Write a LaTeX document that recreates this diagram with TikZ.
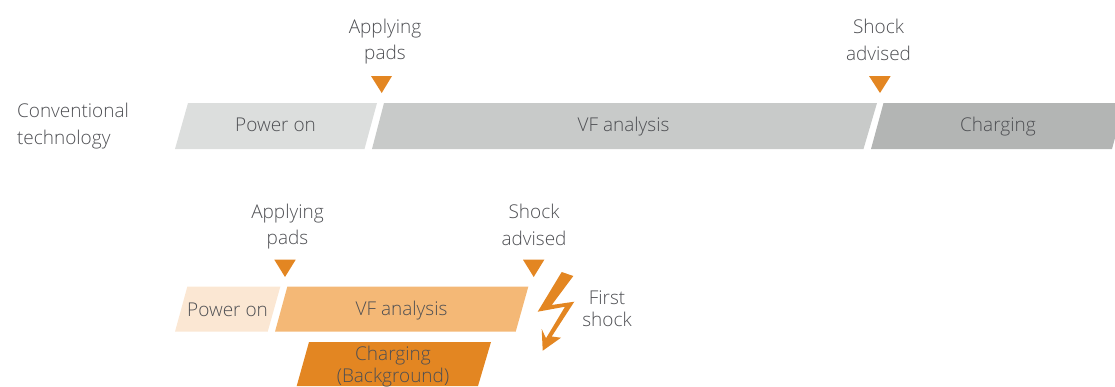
\documentclass[tikz,border=0pt]{standalone}
\usepackage{fontspec}
\setmainfont{Open Sans}[UprightFont=* Light]
\usetikzlibrary{positioning}

\definecolor{inkgrey}{HTML}{4E4F53}
\definecolor{markorange}{HTML}{E38622}
\definecolor{greyone}{HTML}{DCDEDD}
\definecolor{greytwo}{HTML}{C8CAC9}
\definecolor{greythree}{HTML}{B3B5B4}
\definecolor{peachone}{HTML}{FBE7D3}
\definecolor{peachtwo}{HTML}{F4B876}

\begin{document}
\begin{tikzpicture}[
  x=1pt, y=-1pt,
  every node/.style={font=\fontsize{19}{26.5}\selectfont, text=inkgrey, align=center, inner sep=0pt},
  tight/.style={font=\fontsize{19}{22}\selectfont},
  marker/.style={fill=markorange},
  convpower/.style={fill=greyone},
  convvf/.style={fill=greytwo},
  convcharge/.style={fill=greythree},
  fastpower/.style={fill=peachone},
  fastvf/.style={fill=peachtwo},
  fastcharge/.style={fill=markorange}
]
\useasboundingbox (0,0) rectangle (1115,386);

% Conventional row
\fill[convpower] (175,149) -- (188,103) -- (377,103) -- (364.5,149) -- cycle;
\fill[convvf] (372,149) -- (384,103) -- (877,103) -- (863.5,149) -- cycle;
\fill[convcharge] (871,149) -- (883.5,103) -- (1115,103) -- (1115,138) -- (1112,149) -- cycle;
\node (convlabel) at (73,126) [align=left] {Conventional\\technology};
\node (convpoweron) at (275.5,125) {Power on};
\node (convanalysis) at (623.5,127) {VF analysis};
\node (convcharging) at (998,127) {Charging};

% Conventional markers
\fill[marker] (371,76) -- (392,76) -- (381.7,93) -- cycle;
\fill[marker] (869,76) -- (890.7,76) -- (880,93) -- cycle;
\node (convpads) at (385,41.5) {Applying\\pads};
\node (convshock) at (878.5,40) {Shock\\advised};

% Faster row
\fill[fastpower] (175,331.7) -- (187.3,286.7) -- (280.3,286.7) -- (267.7,331.7) -- cycle;
\fill[fastvf] (275,331.7) -- (287.3,286.7) -- (528.3,286.7) -- (515.7,331.7) -- cycle;
\fill[fastcharge] (296.7,386) -- (309,342) -- (491,342) -- (478,386) -- cycle;
\node (fastpoweron) at (227.5,309.5) {Power on};
\node (fastanalysis) at (401.5,311) {VF analysis};
\node[tight] (fastcharging) at (393,366.5) {Charging\\(Background)};

% Faster markers
\fill[marker] (274.3,259.7) -- (295.7,259.7) -- (285,277) -- cycle;
\fill[marker] (523,259.7) -- (544.3,259.7) -- (533.7,277) -- cycle;
\node (fastpads) at (287.5,226.5) {Applying\\pads};
\node (fastshock) at (534,225) {Shock\\advised};

% First shock bolt
\fill[marker] (561.7,272) -- (573.3,276) -- (551.7,305) -- (574.3,301.7) -- (551.7,336.5)
  -- (561,337.7) -- (542.7,350.7) -- (541.7,329) -- (546,338.3) -- (565,306.7)
  -- (537.7,311.7) -- cycle;
\node[tight] (firstshock) at (607,309) {First\\shock};
\end{tikzpicture}
\end{document}
